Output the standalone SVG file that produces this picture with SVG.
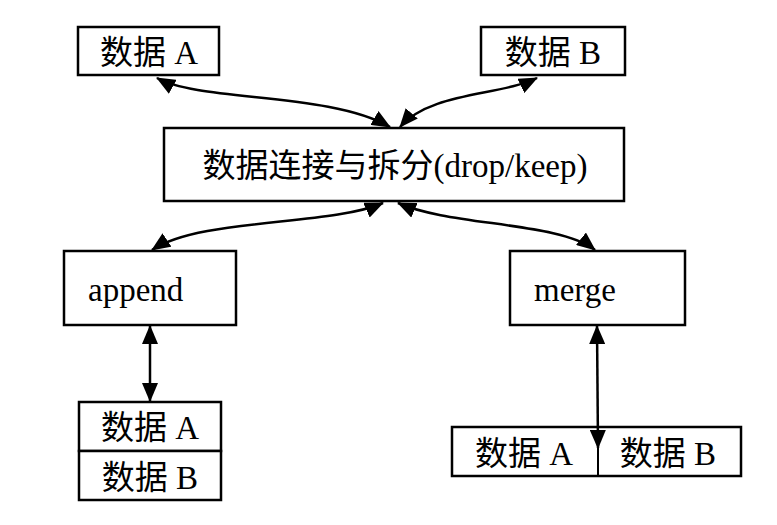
<svg xmlns="http://www.w3.org/2000/svg" width="777" height="525" viewBox="0 0 777 525">
<defs>
<marker id="ah" viewBox="0 0 19 16" refX="18" refY="8" markerWidth="19" markerHeight="16" markerUnits="userSpaceOnUse" orient="auto-start-reverse">
<path d="M0,0 L19,8 L0,16 Z" fill="#000"/>
</marker>
<style>
rect{fill:#fff;stroke:#000;stroke-width:2.5}
text{font-family:"Liberation Serif","Noto Sans CJK SC",serif;font-size:33px;fill:#000}
.c{fill:none;stroke:#000;stroke-width:2.5;marker-start:url(#ah);marker-end:url(#ah)}
.d{fill:none;stroke:#000;stroke-width:2}
</style>
</defs>
<rect width="777" height="525" style="fill:#fff;stroke:none"/>
<g id="dataA"><rect x="78" y="27" width="141" height="48"/><text x="149" y="64" text-anchor="middle">数据 A</text></g>
<g id="dataB"><rect x="481" y="27" width="144" height="48"/><text x="553" y="64" text-anchor="middle">数据 B</text></g>
<g id="main"><rect x="164" y="128" width="460" height="73"/><text x="395" y="177" text-anchor="middle">数据连接与拆分(drop/keep)</text></g>
<g id="append"><rect x="64" y="251" width="172" height="74"/><text x="88" y="301">append</text></g>
<g id="merge"><rect x="510" y="251" width="175" height="74"/><text x="534" y="301">merge</text></g>
<g id="stack"><rect x="79" y="402" width="142" height="49"/><rect x="79" y="451" width="142" height="49"/><text x="150" y="439" text-anchor="middle">数据 A</text><text x="150" y="489" text-anchor="middle">数据 B</text></g>
<g id="side"><rect x="452" y="427" width="289" height="49"/><line class="d" x1="598" y1="446" x2="598" y2="476"/><text x="524" y="465" text-anchor="middle">数据 A</text><text x="668" y="465" text-anchor="middle">数据 B</text></g>
<g id="connectors">
<path class="c" d="M157,78 C200,102 330,92 390,127"/>
<path class="c" d="M537,78 C500,96 430,92 400,127"/>
<path class="c" d="M383,203 C330,226 200,218 152,250"/>
<path class="c" d="M398,203 C450,226 560,222 595,250"/>
<path class="c" d="M150,326 L150,401"/>
<path class="c" d="M597,326 L598,448"/>
</g>
</svg>
